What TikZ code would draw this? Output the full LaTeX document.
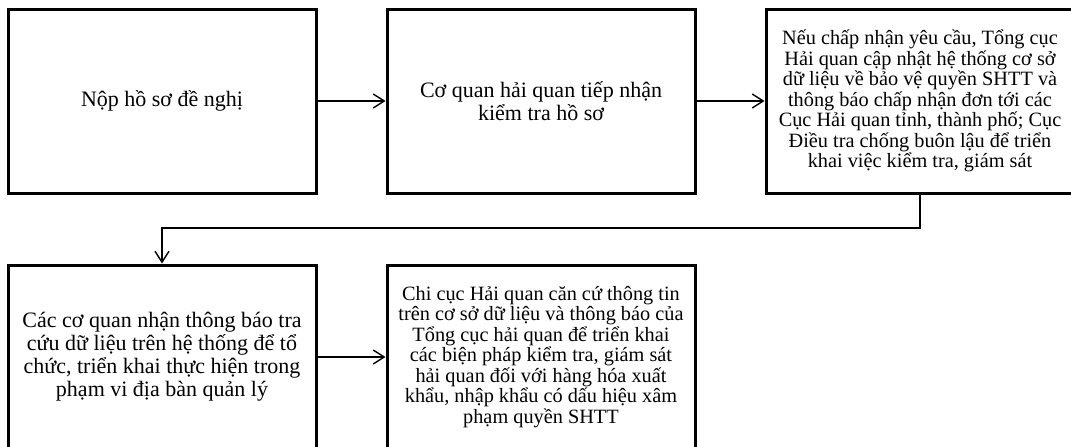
\documentclass[tikz,border=0pt]{standalone}
\usepackage{fontspec}
\setmainfont{Liberation Serif}
\usetikzlibrary{arrows.meta}
\tikzset{
  box/.style={draw=black, line width=3pt, minimum width=308pt, minimum height=184pt, inner sep=0pt, align=center, font=\fontsize{22}{23}\selectfont},
  boxsmall/.style={box, font=\fontsize{20.3}{20.5}\selectfont},
  arr/.style={line width=1.4pt, -{Straight Barb[length=11pt,width=14pt,line width=1.4pt]}}
}
\begin{document}
\begin{tikzpicture}[x=1pt,y=-1pt]
\useasboundingbox (0,0) rectangle (1071,447);
\fill[white] (0,0) rectangle (1071,447);
\node[box] (b1) at (162,101) {Nộp hồ sơ đề nghị};
\node[box] (b2) at (541,101) {Cơ quan hải quan tiếp nhận\\kiểm tra hồ sơ};
\node[boxsmall] (b3) at (920,101) {Nếu chấp nhận yêu cầu, Tổng cục\\Hải quan cập nhật hệ thống cơ sở\\dữ liệu về bảo vệ quyền SHTT và\\thông báo chấp nhận đơn tới các\\Cục Hải quan tỉnh, thành phố; Cục\\Điều tra chống buôn lậu để triển\\khai việc kiểm tra, giám sát};
\node[box] (b4) at (162,357) {Các cơ quan nhận thông báo tra\\cứu dữ liệu trên hệ thống để tổ\\chức, triển khai thực hiện trong\\phạm vi địa bàn quản lý};
\node[boxsmall] (b5) at (541,357) {Chi cục Hải quan căn cứ thông tin\\trên cơ sở dữ liệu và thông báo của\\Tổng cục hải quan để triển khai\\các biện pháp kiểm tra, giám sát\\hải quan đối với hàng hóa xuất\\khẩu, nhập khẩu có dấu hiệu xâm\\phạm quyền SHTT};
\coordinate (m) at (0,228);
\draw[arr] (b1.east) -- (b2.west);
\draw[arr] (b2.east) -- (b3.west);
\draw[arr] (b3.south) -- (b3.south |- m) -| (b4.north);
\draw[arr] (b4.east) -- (b5.west);
\end{tikzpicture}
\end{document}
